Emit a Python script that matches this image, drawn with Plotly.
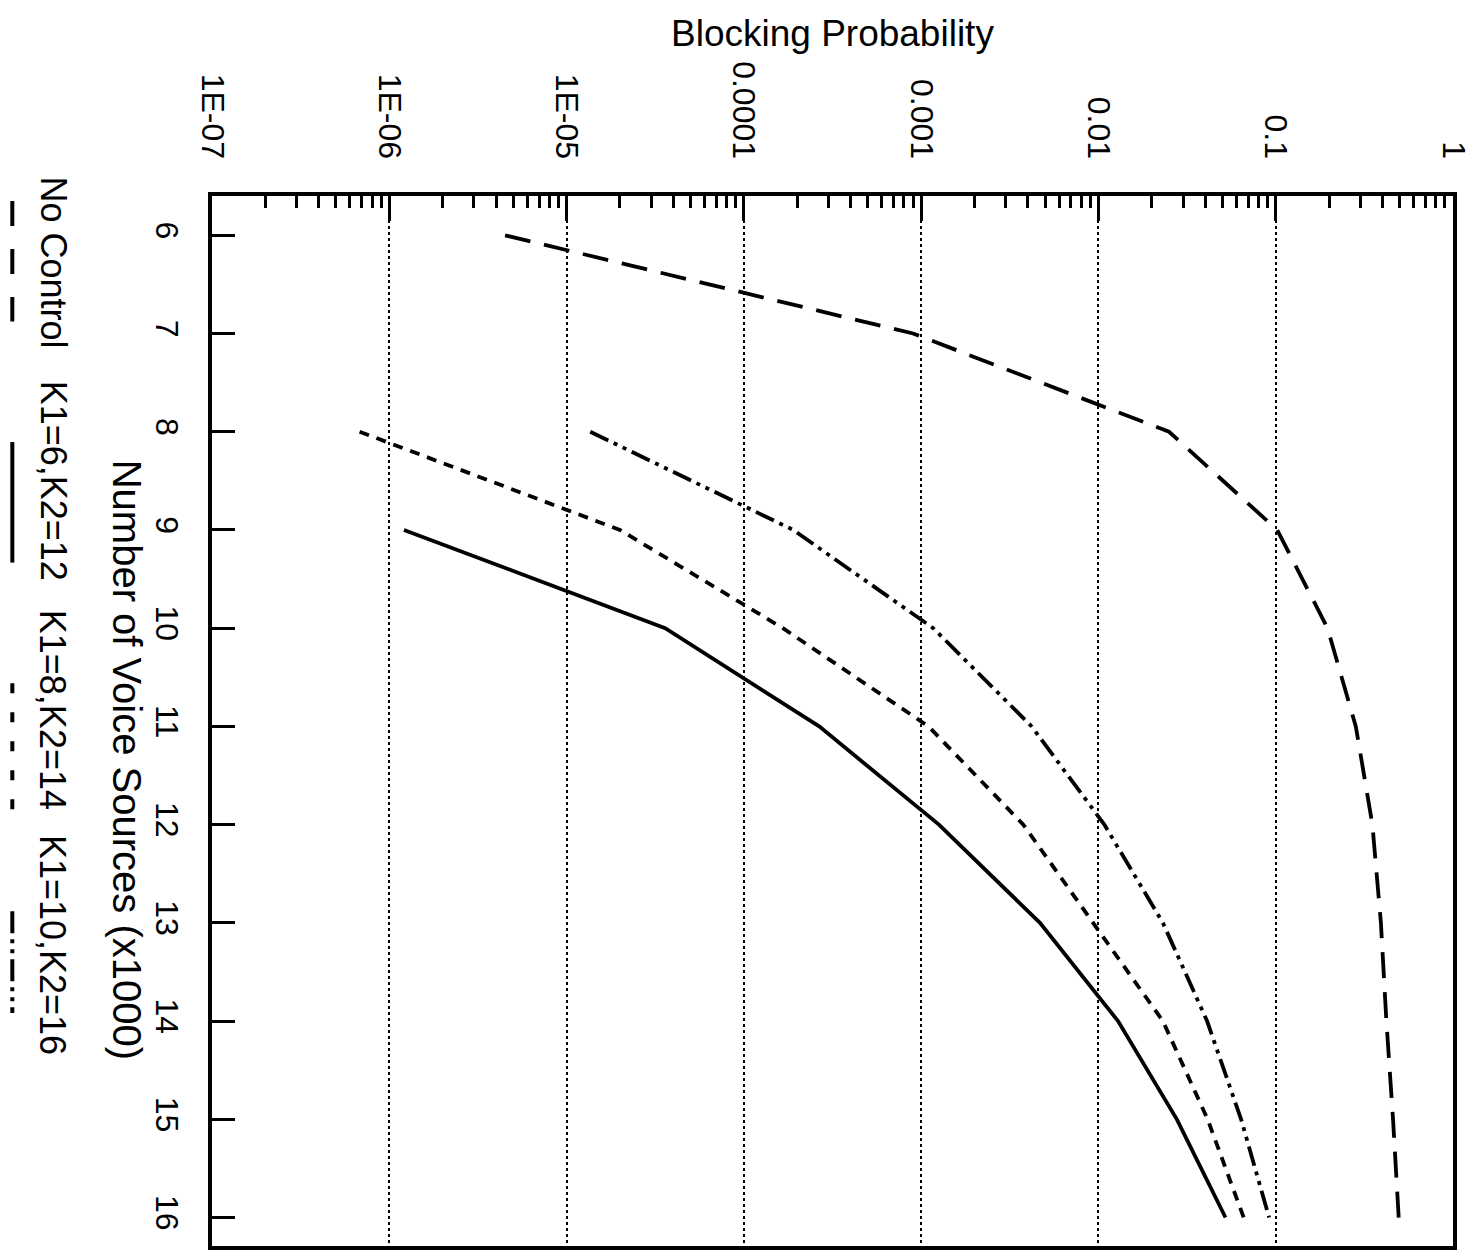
import plotly.graph_objects as go

# ---------------- data ----------------
sources_all = [6, 7, 8, 9, 10, 11, 12, 13, 14, 15, 16]
no_control = [4.5e-6, 9.0e-4, 0.025, 0.102, 0.196, 0.283, 0.351, 0.392, 0.421, 0.459, 0.494]

sources_k6 = [9, 10, 11, 12, 13, 14, 15, 16]
k6_k12 = [1.21e-6, 3.6e-5, 2.66e-4, 1.26e-3, 4.68e-3, 0.0129, 0.0277, 0.0521]

sources_k8 = [8, 9, 10, 11, 12, 13, 14, 15, 16]
k8_k14 = [6.8e-7, 2.0e-5, 1.66e-4, 1.1e-3, 3.77e-3, 9.3e-3, 0.0231, 0.0413, 0.066]

sources_k10 = [8, 9, 10, 11, 12, 13, 14, 15, 16]
k10_k16 = [1.36e-5, 1.9e-4, 1.17e-3, 4.2e-3, 0.0108, 0.0231, 0.041, 0.0638, 0.0918]

series_names = ["No Control", "K1=6,K2=12", "K1=8,K2=14", "K1=10,K2=16"]
prob_tickvals = [1e-7, 1e-6, 1e-5, 1e-4, 1e-3, 1e-2, 1e-1, 1]
prob_ticktext = ["1E-07", "1E-06", "1E-05", "0.0001", "0.001", "0.01", "0.1", "1"]
source_ticks = [6, 7, 8, 9, 10, 11, 12, 13, 14, 15, 16]

# ---------------- styling ----------------
W, H = 1479, 1257
L, R, T, B = 212, 24, 196, 7
PW, PH = W - L - R, H - T - B
FONT = "Liberation Sans, Arial, Helvetica, sans-serif"

dashes = ["26px,14px", "solid", "10px,8px", "20px,6px,4px,6px,4px,6px"]
series = [
    (sources_all, no_control),
    (sources_k6, k6_k12),
    (sources_k8, k8_k14),
    (sources_k10, k10_k16),
]

fig = go.Figure()
for (ys, xs), name, d in zip(series, series_names, dashes):
    fig.add_trace(go.Scatter(
        x=xs, y=ys, mode="lines", name=name,
        line=dict(color="black", width=3.8, dash=d),
        showlegend=False,
    ))

def px_x(p):
    return (p - L) / PW

def px_y(p):
    return 1 - (p - T) / PH

annotations = []
# axis titles
annotations.append(dict(text="Blocking Probability", x=px_x(833), y=px_y(33),
                        xref="paper", yref="paper", showarrow=False,
                        font=dict(family=FONT, size=37, color="black"),
                        xanchor="center", yanchor="middle"))
annotations.append(dict(text="Number of Voice Sources (x1000)", x=px_x(127), y=px_y(762),
                        xref="paper", yref="paper", showarrow=False, textangle=90,
                        font=dict(family=FONT, size=40, color="black"),
                        xanchor="center", yanchor="middle"))

# legend (rotated)
legend_text_centers = [263, 482, 712, 948]
legend_samples = [(201, 322), (443, 564), (685, 812), (914, 1016)]
legend_dashes = ["25px,23px", "solid", "10px,19px", "22px,6px,4px,6px,4px,6px"]
shapes = []
for name, yc, (y0, y1), d in zip(series_names, legend_text_centers, legend_samples, legend_dashes):
    annotations.append(dict(text=name, x=px_x(53), y=px_y(yc),
                            xref="paper", yref="paper", showarrow=False, textangle=90,
                            font=dict(family=FONT, size=36, color="black"),
                            xanchor="center", yanchor="middle"))
    shapes.append(dict(type="line", xref="paper", yref="paper",
                       x0=px_x(12), x1=px_x(12), y0=px_y(y0), y1=px_y(y1),
                       line=dict(color="black", width=4, dash=d)))

fig.update_layout(
    width=W, height=H,
    margin=dict(l=L, r=R, t=T, b=B),
    paper_bgcolor="white", plot_bgcolor="white",
    annotations=annotations, shapes=shapes,
    font=dict(family=FONT, color="black"),
)

fig.update_xaxes(
    type="log", side="top", range=[-7, 0],
    tickvals=prob_tickvals, ticktext=prob_ticktext, tickangle=90,
    tickfont=dict(family=FONT, size=32, color="black"),
    ticks="inside", ticklen=25, tickwidth=2.5, tickcolor="black",
    ticklabelstandoff=22,
    minor=dict(ticks="inside", ticklen=12, tickwidth=2.5, tickcolor="black",
               dtick="D1", showgrid=False),
    showgrid=True, gridcolor="black", gridwidth=2, griddash="dot",
    showline=True, linecolor="black", linewidth=3.5, mirror=True,
    zeroline=False,
)
fig.update_yaxes(
    range=[16.29, 5.60],
    tickvals=source_ticks, tickangle=90,
    tickfont=dict(family=FONT, size=32, color="black"),
    ticks="inside", ticklen=23, tickwidth=2.5, tickcolor="black",
    ticklabelstandoff=14,
    showgrid=False,
    showline=True, linecolor="black", linewidth=3.5, mirror=True,
    zeroline=False,
)

fig.write_html("out.html")
